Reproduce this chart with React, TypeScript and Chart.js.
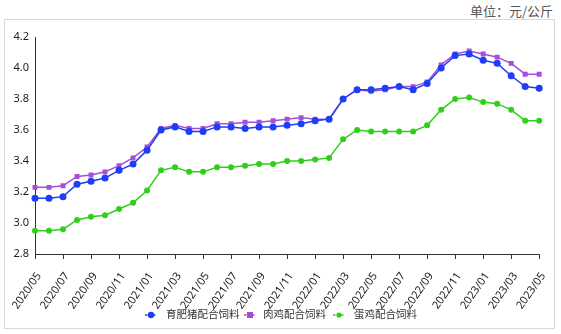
import React, { useEffect, useRef } from "react";
import { Chart, registerables } from "chart.js";

Chart.register(...registerables);

const months: string[] = [
  "2020/05","2020/06","2020/07","2020/08","2020/09","2020/10","2020/11","2020/12",
  "2021/01","2021/02","2021/03","2021/04","2021/05","2021/06","2021/07","2021/08",
  "2021/09","2021/10","2021/11","2021/12","2022/01","2022/02","2022/03","2022/04",
  "2022/05","2022/06","2022/07","2022/08","2022/09","2022/10","2022/11","2022/12",
  "2023/01","2023/02","2023/03","2023/04","2023/05",
];

const pigFeed: number[] = [
  3.16, 3.16, 3.17, 3.25, 3.27, 3.29, 3.34, 3.38, 3.47, 3.60, 3.62, 3.59, 3.59,
  3.62, 3.62, 3.61, 3.62, 3.62, 3.63, 3.64, 3.66, 3.67, 3.80, 3.86, 3.86, 3.87,
  3.88, 3.86, 3.90, 4.00, 4.08, 4.09, 4.05, 4.03, 3.95, 3.88, 3.87,
];

const broilerFeed: number[] = [
  3.23, 3.23, 3.24, 3.30, 3.31, 3.33, 3.37, 3.42, 3.49, 3.61, 3.63, 3.61, 3.61,
  3.64, 3.64, 3.65, 3.65, 3.66, 3.67, 3.68, 3.67, 3.67, 3.80, 3.86, 3.85, 3.86,
  3.88, 3.88, 3.91, 4.02, 4.09, 4.11, 4.09, 4.07, 4.03, 3.96, 3.96,
];

const layerFeed: number[] = [
  2.95, 2.95, 2.96, 3.02, 3.04, 3.05, 3.09, 3.13, 3.21, 3.34, 3.36, 3.33, 3.33,
  3.36, 3.36, 3.37, 3.38, 3.38, 3.40, 3.40, 3.41, 3.42, 3.54, 3.60, 3.59, 3.59,
  3.59, 3.59, 3.63, 3.73, 3.80, 3.81, 3.78, 3.77, 3.73, 3.66, 3.66,
];

const seriesNames: string[] = ["育肥猪配合饲料", "肉鸡配合饲料", "蛋鸡配合饲料"];
const seriesColors: string[] = ["#1f3df5", "#a64ddc", "#2fd01a"];
const unitLabel = "单位：元/公斤";

const FONT = '"Noto Sans", "Noto Sans CJK SC", sans-serif';
const CJK = '"Noto Sans CJK SC", sans-serif';

function LegendMarker({ color, shape }: { color: string; shape: string }) {
  return (
    <svg width="12" height="10" style={{ display: "block" }}>
      <line x1="0" y1="5" x2="12" y2="5" stroke={color} strokeWidth="1.5" strokeDasharray="2.5,1.5" />
      {shape === "rect" ? (
        <rect x="3" y="2" width="6" height="6" fill={color} />
      ) : (
        <circle cx="6" cy="5" r={shape === "small" ? 2.6 : 3.2} fill={color} />
      )}
    </svg>
  );
}

export default function App() {
  const canvasRef = useRef<HTMLCanvasElement | null>(null);

  useEffect(() => {
    document.body.style.margin = "0";
    const ctx = canvasRef.current!.getContext("2d")!;
    const chart = new Chart(ctx, {
      type: "line",
      data: {
        labels: months,
        datasets: [
          {
            label: seriesNames[0],
            data: pigFeed,
            borderColor: seriesColors[0],
            backgroundColor: seriesColors[0],
            borderWidth: 1.5,
            pointStyle: "circle",
            pointRadius: 3.5,
            pointBorderWidth: 0,
            tension: 0,
          },
          {
            label: seriesNames[1],
            data: broilerFeed,
            borderColor: seriesColors[1],
            backgroundColor: seriesColors[1],
            borderWidth: 1.5,
            pointStyle: "rect",
            pointRadius: 3.5,
            pointBorderWidth: 0,
            tension: 0,
          },
          {
            label: seriesNames[2],
            data: layerFeed,
            borderColor: seriesColors[2],
            backgroundColor: seriesColors[2],
            borderWidth: 1.5,
            pointStyle: "circle",
            pointRadius: 3,
            pointBorderWidth: 0,
            tension: 0,
          },
        ],
      },
      options: {
        animation: false,
        responsive: false,
        maintainAspectRatio: false,
        layout: { padding: { top: 37, right: 20, left: 0, bottom: 0 } },
        plugins: {
          legend: { display: false },
          tooltip: { enabled: false },
          title: { display: false },
        },
        scales: {
          x: {
            type: "category",
            offset: false,
            afterBuildTicks: (axis: any) => {
              axis.ticks = axis.ticks.filter((_t: any, i: number) => i % 2 === 0);
            },
            afterFit: (axis: any) => {
              axis.height = 80;
            },
            border: { display: true, color: "#333", width: 1 },
            grid: {
              display: true,
              drawOnChartArea: false,
              drawTicks: true,
              tickLength: 5,
              color: "#333",
            },
            ticks: {
              autoSkip: false,
              minRotation: 55,
              maxRotation: 55,
              padding: 11,
              labelOffset: 4,
              color: "#222",
              font: { family: FONT, size: 11 },
            },
          },
          y: {
            min: 2.8,
            max: 4.2,
            afterFit: (axis: any) => {
              axis.width = 31;
            },
            border: { display: true, color: "#333", width: 1 },
            grid: { display: false, drawTicks: false },
            ticks: {
              stepSize: 0.2,
              padding: 6,
              color: "#222",
              font: { family: FONT, size: 11 },
              callback: (v: any) => Number(v).toFixed(1),
            },
          },
        },
      },
    });
    return () => chart.destroy();
  }, []);

  const shapes = ["circle", "rect", "small"];
  const markerX = [145, 244, 333];
  const textX = [166, 263, 354];

  return (
    <div style={{ position: "fixed", left: 0, top: 0, width: 561, height: 334, background: "#fff", fontFamily: FONT }}>
      <div
        style={{
          position: "absolute",
          left: 4,
          top: 19,
          width: 551,
          height: 310,
          border: "1px solid #d9d9d9",
          boxSizing: "border-box",
        }}
      />
      <div
        style={{
          position: "absolute",
          right: 8,
          top: 1,
          fontSize: 13,
          color: "#555",
          fontFamily: CJK,
        }}
      >
        {unitLabel}
      </div>
      <canvas ref={canvasRef} width={561} height={334} style={{ position: "absolute", left: 0, top: 0 }} />
      {seriesNames.map((n, i) => (
        <React.Fragment key={n}>
          <div style={{ position: "absolute", left: markerX[i], top: 310 }}>
            <LegendMarker color={seriesColors[i]} shape={shapes[i]} />
          </div>
          <div
            style={{
              position: "absolute",
              left: textX[i],
              top: 306,
              fontSize: 10.5,
              lineHeight: "16px",
              color: "#333",
              fontFamily: CJK,
              whiteSpace: "nowrap",
            }}
          >
            {n}
          </div>
        </React.Fragment>
      ))}
    </div>
  );
}
